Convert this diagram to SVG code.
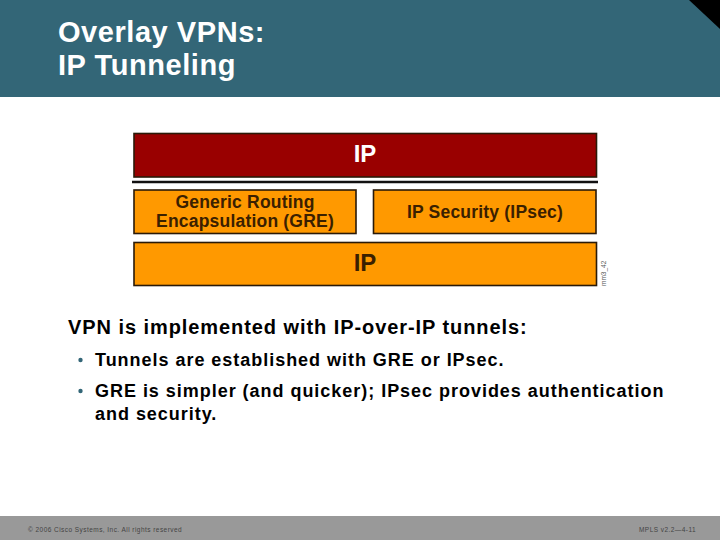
<svg xmlns="http://www.w3.org/2000/svg" width="720" height="540" viewBox="0 0 720 540">
<style>
text{font-family:"Liberation Sans",Arial,sans-serif}
.box{stroke:#2a1a08;stroke-width:1.600}
.org{fill:#ff9900}
.lbl{font-weight:bold;fill:#3a2000;text-anchor:middle}
.sm{font-size:17.500px;letter-spacing:.2px}
.title{font-size:29px;font-weight:bold;fill:#fff;letter-spacing:.55px}
.body{font-size:20px;font-weight:bold;fill:#000;letter-spacing:.93px}
.sub{font-size:18px;font-weight:bold;fill:#000;letter-spacing:.97px}
.bul{fill:#336677}
.foot{font-size:6.500px;fill:#444;letter-spacing:.45px}
</style>
<rect width="720" height="540" fill="#fff"/>
<g id="header">
<rect width="720" height="97" fill="#336677"/>
<polygon points="689,0 720,0 720,29" fill="#000"/>
<text class="title" x="58" y="42">Overlay VPNs:</text>
<text class="title" x="58" y="75">IP Tunneling</text>
</g>
<g id="connectors">
<line x1="132" y1="182" x2="598" y2="182" stroke="#111" stroke-width="2.400"/>
</g>
<g id="ip-top">
<rect class="box" x="134" y="133.500" width="462.500" height="43.500" fill="#990000"/>
<text x="365" y="162" font-size="24" font-weight="bold" fill="#fff" text-anchor="middle">IP</text>
</g>
<g id="gre">
<rect class="box org" x="134" y="190" width="222" height="43.500"/>
<text class="lbl sm" x="245" y="208">Generic Routing</text>
<text class="lbl sm" x="245" y="227">Encapsulation (GRE)</text>
</g>
<g id="ipsec">
<rect class="box org" x="373.500" y="190" width="222.500" height="43.500"/>
<text class="lbl sm" x="485" y="218">IP Security (IPsec)</text>
</g>
<g id="ip-bottom">
<rect class="box org" x="134" y="242.500" width="462.500" height="43"/>
<text class="lbl" x="365" y="271" font-size="24">IP</text>
</g>
<text transform="translate(606,286) rotate(-90)" font-size="6.500" fill="#555">mm3_42</text>
<g id="body">
<text class="body" x="68" y="334">VPN is implemented with IP-over-IP tunnels:</text>
<circle class="bul" cx="80.500" cy="360" r="2.200"/>
<text class="sub" x="95" y="366">Tunnels are established with GRE or IPsec.</text>
<circle class="bul" cx="80.500" cy="391" r="2.200"/>
<text class="sub" x="95" y="397">GRE is simpler (and quicker); IPsec provides authentication</text>
<text class="sub" x="95" y="420">and security.</text>
</g>
<g id="footer">
<rect y="516" width="720" height="24" fill="#999"/>
<text class="foot" x="28" y="532">© 2006 Cisco Systems, Inc. All rights reserved</text>
<text class="foot" x="639" y="532">MPLS v2.2—4-11</text>
</g>
</svg>
